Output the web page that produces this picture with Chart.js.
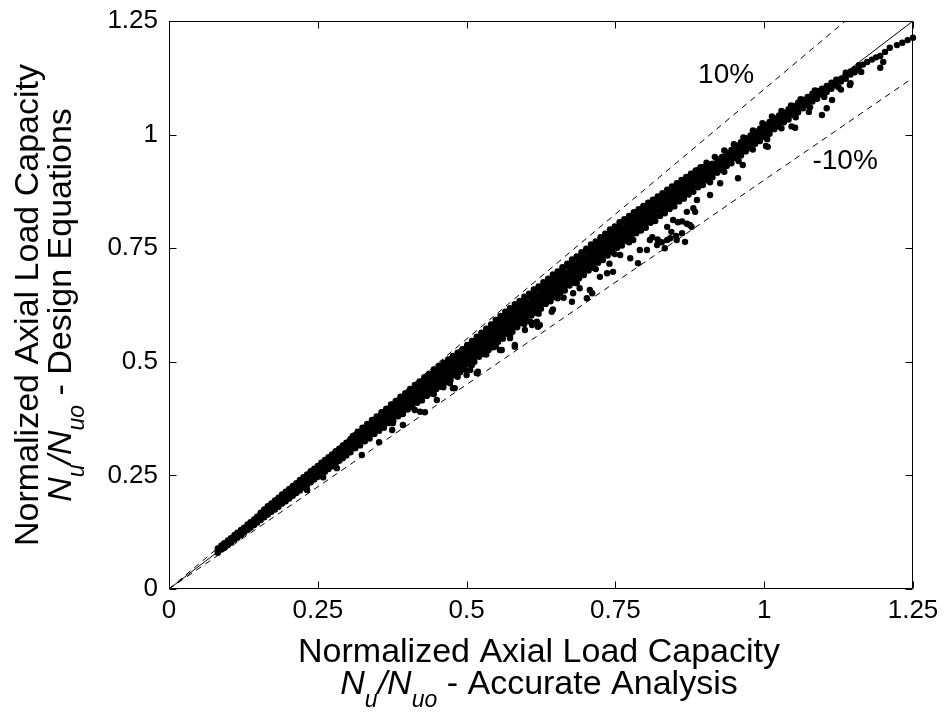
<!DOCTYPE html>
<html>
<head>
<meta charset="utf-8">
<script src="https://cdn.jsdelivr.net/npm/chart.js@4.4.1/dist/chart.umd.min.js"></script>
<style>
  html, body { margin: 0; padding: 0; background: #ffffff; }
  #wrap { width: 947px; height: 715px; position: relative; }
</style>
</head>
<body>
<div id="wrap"><canvas id="chart" width="947" height="715"></canvas></div>
<script>
// ---------------- DATA ----------------
// Axis ticks
const tickValues = [0, 0.25, 0.5, 0.75, 1, 1.25];
const tickLabels = ['0', '0.25', '0.5', '0.75', '1', '1.25'];

// Reference lines: exact (y = x), +10 % and -10 %
const lineX    = [0, 1.25];
const equalY   = [0, 1.25];
const plus10Y  = [0, 1.375];
const minus10Y = [0, 1.125];

// Scatter band, columns of [accurate analysis value, [design equation values]]
const bandLow = [
  [0.082,[0.080,0.085,0.089]],
  [0.088,[0.087,0.092,0.096]],
  [0.093,[0.091,0.097,0.101]],
  [0.099,[0.097,0.102,0.107]],
  [0.104,[0.102,0.108,0.112]],
  [0.110,[0.109,0.113,0.119]],
  [0.115,[0.113,0.119,0.124]],
  [0.121,[0.119,0.125,0.130]],
  [0.126,[0.124,0.131,0.135]],
  [0.132,[0.130,0.136,0.142]],
  [0.137,[0.135,0.142,0.147]],
  [0.143,[0.141,0.148,0.153]],
  [0.148,[0.146,0.153,0.159]],
  [0.154,[0.152,0.159,0.165,0.168]],
  [0.160,[0.158,0.165,0.171,0.175]],
  [0.166,[0.164,0.171,0.177,0.182]],
  [0.172,[0.170,0.177,0.184,0.188]],
  [0.178,[0.175,0.183,0.190,0.195]],
  [0.184,[0.181,0.189,0.196,0.201]],
  [0.190,[0.188,0.195,0.203,0.208]],
  [0.196,[0.193,0.201,0.209,0.214]],
  [0.202,[0.199,0.207,0.215,0.220]],
  [0.208,[0.205,0.214,0.221,0.227]],
  [0.214,[0.211,0.220,0.228,0.233]],
  [0.220,[0.217,0.226,0.234,0.240]],
  [0.226,[0.223,0.232,0.240,0.246]],
  [0.232,[0.229,0.238,0.247,0.252]],
  [0.238,[0.235,0.244,0.253,0.259]],
  [0.244,[0.241,0.250,0.259,0.265]],
  [0.250,[0.247,0.256,0.265,0.271]],
  [0.256,[0.252,0.262,0.271,0.278]],
  [0.262,[0.258,0.268,0.277,0.284]],
  [0.268,[0.264,0.274,0.284,0.290]],
  [0.274,[0.270,0.280,0.290,0.296]],
  [0.280,[0.276,0.287,0.296,0.303]],
  [0.286,[0.282,0.293,0.303,0.309]],
  [0.292,[0.288,0.299,0.309,0.316]],
  [0.298,[0.294,0.305,0.315,0.322]]
];

const bandMid = [
  [0.305,[0.301,0.309,0.316,0.324,0.330]],
  [0.313,[0.310,0.318,0.325,0.331,0.339]],
  [0.321,[0.316,0.324,0.331,0.338,0.345]],
  [0.329,[0.325,0.334,0.341,0.348,0.355]],
  [0.337,[0.331,0.340,0.348,0.355,0.362]],
  [0.345,[0.341,0.349,0.357,0.365,0.372]],
  [0.353,[0.348,0.357,0.364,0.372,0.379]],
  [0.361,[0.355,0.364,0.373,0.381,0.388]],
  [0.369,[0.365,0.374,0.382,0.390,0.397]],
  [0.377,[0.370,0.379,0.388,0.396,0.404]],
  [0.385,[0.380,0.389,0.398,0.406,0.413]],
  [0.393,[0.385,0.395,0.404,0.413,0.421]],
  [0.401,[0.395,0.405,0.414,0.422,0.430]],
  [0.409,[0.400,0.410,0.419,0.428,0.436,0.440]],
  [0.417,[0.410,0.420,0.429,0.438,0.446]],
  [0.425,[0.415,0.425,0.435,0.444,0.452,0.457]],
  [0.433,[0.425,0.435,0.445,0.454,0.462]],
  [0.441,[0.430,0.440,0.450,0.459,0.467,0.472]],
  [0.449,[0.440,0.450,0.460,0.469,0.477]],
  [0.457,[0.445,0.455,0.465,0.474,0.483,0.489]],
  [0.465,[0.455,0.465,0.475,0.484,0.493]],
  [0.473,[0.460,0.470,0.480,0.490,0.498,0.505]],
  [0.481,[0.470,0.480,0.490,0.499,0.508]],
  [0.489,[0.477,0.487,0.497,0.507,0.515,0.521]],
  [0.497,[0.483,0.494,0.504,0.513,0.522,0.528]],
  [0.505,[0.494,0.504,0.514,0.524,0.533]],
  [0.513,[0.500,0.511,0.521,0.530,0.539,0.545]],
  [0.521,[0.511,0.521,0.531,0.540,0.549]],
  [0.529,[0.517,0.527,0.537,0.547,0.556,0.562]],
  [0.537,[0.526,0.537,0.547,0.557,0.566]],
  [0.545,[0.532,0.543,0.554,0.563,0.572,0.578]],
  [0.553,[0.544,0.554,0.564,0.573,0.582]],
  [0.561,[0.551,0.561,0.571,0.580,0.589,0.595]],
  [0.569,[0.561,0.571,0.581,0.590,0.599]],
  [0.577,[0.566,0.577,0.587,0.597,0.606,0.612]],
  [0.585,[0.576,0.586,0.596,0.606,0.615]],
  [0.593,[0.585,0.595,0.605,0.615,0.624,0.628]],
  [0.601,[0.591,0.602,0.612,0.621,0.631]],
  [0.609,[0.602,0.612,0.622,0.631,0.640,0.645]],
  [0.617,[0.608,0.618,0.628,0.638,0.647]],
  [0.625,[0.617,0.627,0.637,0.647,0.656,0.661]],
  [0.633,[0.627,0.637,0.647,0.656,0.665]],
  [0.641,[0.633,0.643,0.653,0.663,0.672,0.678]],
  [0.649,[0.642,0.652,0.662,0.672,0.682]],
  [0.657,[0.651,0.661,0.671,0.681,0.690,0.695]],
  [0.665,[0.657,0.667,0.678,0.688,0.697]],
  [0.673,[0.668,0.678,0.688,0.698,0.707,0.712]],
  [0.681,[0.674,0.684,0.694,0.704,0.714]],
  [0.689,[0.684,0.694,0.704,0.714,0.724,0.729]],
  [0.697,[0.691,0.701,0.711,0.721,0.731]],
  [0.705,[0.701,0.711,0.721,0.731,0.741,0.746]],
  [0.713,[0.707,0.717,0.727,0.737,0.747]],
  [0.721,[0.718,0.728,0.738,0.748,0.757,0.763]],
  [0.729,[0.724,0.734,0.744,0.754,0.764]],
  [0.737,[0.734,0.744,0.754,0.764,0.774,0.779]],
  [0.745,[0.741,0.751,0.761,0.771,0.781]],
  [0.753,[0.751,0.761,0.771,0.781,0.791,0.796]],
  [0.761,[0.756,0.766,0.776,0.786,0.796]],
  [0.769,[0.766,0.776,0.786,0.796,0.806,0.812]],
  [0.777,[0.773,0.783,0.793,0.803,0.813]],
  [0.785,[0.783,0.793,0.803,0.813,0.823,0.828]],
  [0.793,[0.789,0.799,0.809,0.819,0.829]]
];

// Upper edge of the band in the middle range (points close to the +10 % line)
const bandMidUpper = [
  [0.309,[0.330,0.337]],[0.317,[0.340,0.346]],[0.325,[0.347,0.355]],[0.333,[0.357,0.363]],
  [0.341,[0.364,0.372]],[0.349,[0.374,0.380]],[0.357,[0.381,0.389]],[0.365,[0.391,0.397]],
  [0.373,[0.398,0.406]],[0.381,[0.408,0.414]],[0.389,[0.415,0.423]],[0.397,[0.425,0.431]],
  [0.405,[0.432,0.440]],[0.413,[0.442,0.449]],[0.421,[0.449,0.457]],[0.429,[0.459,0.466]],
  [0.437,[0.466,0.474]],[0.445,[0.476,0.483]],[0.453,[0.483,0.491]],[0.461,[0.493,0.498]],
  [0.469,[0.500,0.505]],[0.477,[0.507,0.513]],[0.485,[0.516,0.520]],[0.493,[0.522,0.528]],
  [0.501,[0.531,0.537]],[0.509,[0.540,0.546]],[0.517,[0.549,0.555]],[0.525,[0.558,0.564]],
  [0.533,[0.567,0.573]],[0.541,[0.576,0.582]],[0.549,[0.585,0.592]],[0.557,[0.594,0.601]],
  [0.565,[0.601,0.610]],[0.573,[0.611,0.618]],[0.581,[0.618,0.627]],[0.589,[0.628,0.634]],
  [0.597,[0.635,0.643]],[0.605,[0.645,0.650]],[0.613,[0.652,0.659]],[0.621,[0.661,0.666]],
  [0.629,[0.668,0.675]],[0.637,[0.678,0.683]],[0.645,[0.685,0.692]],[0.653,[0.694,0.699]],
  [0.661,[0.701,0.708]],[0.669,[0.711,0.716]],[0.677,[0.718,0.725]],[0.685,[0.727,0.732]],
  [0.693,[0.734,0.741]],[0.701,[0.744,0.749]],[0.709,[0.751,0.758]],[0.717,[0.760,0.765]],
  [0.725,[0.767,0.774]],[0.733,[0.777,0.782]],[0.741,[0.784,0.791]],[0.749,[0.793,0.798]],
  [0.757,[0.800,0.807]],[0.765,[0.809,0.814]],[0.773,[0.816,0.821]],[0.781,[0.825,0.829]],
  [0.789,[0.832,0.836]],[0.797,[0.839,0.843]],
  [0.805,[0.850]],[0.813,[0.857]],[0.821,[0.864]],[0.829,[0.871]],[0.837,[0.879]],
  [0.845,[0.886]],[0.853,[0.893]],[0.861,[0.900]],[0.869,[0.907]],[0.877,[0.914]],
  [0.885,[0.921]],[0.893,[0.928]]
];

const bandHigh = [
  [0.801,[0.795,0.805,0.816,0.827,0.837]],
  [0.809,[0.806,0.817,0.828,0.839,0.848]],
  [0.817,[0.810,0.821,0.832,0.843,0.852]],
  [0.825,[0.821,0.832,0.843,0.854,0.862]],
  [0.833,[0.827,0.838,0.849,0.860,0.869]],
  [0.841,[0.836,0.847,0.858,0.869,0.877]],
  [0.849,[0.842,0.853,0.864,0.875,0.884]],
  [0.857,[0.853,0.864,0.875,0.886,0.893]],
  [0.865,[0.859,0.870,0.881,0.892,0.900]],
  [0.873,[0.868,0.879,0.890,0.901,0.907]],
  [0.881,[0.874,0.885,0.896,0.907,0.914]],
  [0.889,[0.884,0.895,0.905,0.915,0.922]],
  [0.897,[0.889,0.900,0.911,0.921,0.928]],
  [0.905,[0.899,0.909,0.919,0.929,0.935]],
  [0.913,[0.906,0.916,0.926,0.936]],
  [0.921,[0.916,0.926,0.936,0.946]],
  [0.929,[0.922,0.931,0.941,0.951]],
  [0.937,[0.931,0.941,0.951,0.960]],
  [0.945,[0.937,0.947,0.957,0.966]],
  [0.953,[0.948,0.958,0.968,0.976]],
  [0.961,[0.954,0.964,0.974,0.983]],
  [0.969,[0.963,0.973,0.983,0.992]],
  [0.977,[0.970,0.980,0.989,0.998]],
  [0.985,[0.980,0.990,0.999,1.007]],
  [0.993,[0.986,0.995,1.004,1.013]],
  [1.001,[0.995,1.004,1.013,1.022]],
  [1.009,[1.002,1.011,1.020,1.028]],
  [1.017,[1.012,1.021,1.029,1.036]],
  [1.025,[1.018,1.027,1.035,1.042]],
  [1.033,[1.027,1.036,1.044,1.049]],
  [1.041,[1.033,1.042,1.050,1.056]],
  [1.049,[1.043,1.051,1.058,1.063]],
  [1.057,[1.049,1.057,1.065,1.070]],
  [1.065,[1.058,1.066,1.072,1.077]],
  [1.073,[1.064,1.071,1.078,1.083]],
  [1.081,[1.073,1.080,1.086,1.090]],
  [1.089,[1.079,1.086,1.092,1.096]],
  [1.097,[1.088,1.095,1.101]],
  [1.105,[1.094,1.101,1.107]]
];

// Ragged edges of the band in the upper range
const bandHighEdges = [
  [0.903,0.938],[0.917,0.951],[0.933,0.965],[0.949,0.979],[0.965,0.994],[0.981,1.009],
  [0.997,1.025],[1.013,1.040],[1.029,1.052],[1.045,1.064],[1.061,1.078],[1.085,1.097],
  [0.909,0.895],[0.933,0.918],[0.957,0.942],[0.981,0.967],[1.005,0.990],[1.029,1.014],
  [1.053,1.038],[1.077,1.060],[1.101,1.083],[1.125,1.104]
];

const bandTop = [
  [1.113,[1.101,1.108,1.114]],
  [1.121,[1.108,1.115,1.121]],
  [1.129,[1.117,1.123]],
  [1.137,[1.123,1.130,1.136]],
  [1.145,[1.132,1.139]],
  [1.152,[1.137,1.144]],
  [1.159,[1.145,1.153]],
  [1.166,[1.154]],
  [1.173,[1.160]],
  [1.181,[1.165]],
  [1.188,[1.170]],
  [1.195,[1.173]],
  [1.203,[1.182]],
  [1.211,[1.191]],
  [1.223,[1.197]],
  [1.232,[1.202]],
  [1.241,[1.208]],
  [1.250,[1.213]]
];

// Scattered points below the main band, [accurate, design]
const outliers = [
  [0.232,0.218],[0.259,0.246],[0.282,0.266],[0.324,0.295],[0.353,0.323],[0.375,0.350],
  [0.393,0.361],[0.422,0.390],[0.430,0.389],[0.477,0.442],[0.500,0.471],[0.517,0.475],
  [0.556,0.526],[0.581,0.533],[0.610,0.581],[0.612,0.585],[0.620,0.577],[0.623,0.581],
  [0.645,0.615],[0.663,0.641],[0.677,0.632],[0.690,0.662],[0.702,0.640],[0.707,0.658],
  [0.724,0.687],[0.740,0.716],[0.758,0.735],[0.780,0.768],[0.788,0.717],[0.803,0.746],
  [0.812,0.774],[0.821,0.769],[0.828,0.763],[0.837,0.768],[0.837,0.797],[0.844,0.786],
  [0.847,0.812],[0.852,0.777],[0.855,0.807],[0.862,0.783],[0.862,0.809],[0.870,0.830],
  [0.870,0.804],[0.878,0.797],[0.881,0.838],[0.887,0.856],[0.926,0.893],[0.956,0.904],
  [1.003,0.975],[1.046,1.018],[1.075,1.050],[1.097,1.043],[1.105,1.058],[1.129,1.099],
  [1.145,1.113],[1.163,1.138],[1.195,1.147],[1.200,1.160],
  [0.413,0.394],[0.472,0.453],[0.480,0.442],[0.506,0.482],[0.519,0.478],[0.573,0.552],
  [0.581,0.537],[0.598,0.570],[0.618,0.588],[0.643,0.610],[0.679,0.651],[0.711,0.651],
  [0.736,0.695],[0.746,0.698],[0.775,0.728],[0.791,0.746],[0.808,0.768],[0.820,0.757],
  [0.833,0.750],[0.842,0.772],[0.853,0.768],[0.867,0.764],[0.875,0.801],[0.884,0.830],
  [0.376,0.365],[0.450,0.416],[0.559,0.526],[0.607,0.588],[0.909,0.867],[0.964,0.933],
  [1.006,0.973],[1.052,1.015],[1.114,1.076],[1.144,1.109],
  [0.445,0.429],[0.461,0.444],[0.485,0.467],[0.509,0.493],[0.533,0.516],[0.549,0.534],
  [0.573,0.557],[0.597,0.583],[0.621,0.606],[0.653,0.640],[0.685,0.673],[0.717,0.704],
  [0.749,0.737],[0.773,0.763]
];

// ---------------- BUILD ----------------
const FONT = "'Liberation Sans', Arial, Helvetica, sans-serif";

const scatterPoints = [];
[bandLow, bandMid, bandMidUpper, bandHigh, bandTop].forEach(group => {
  group.forEach(([ax, ys]) => ys.forEach(dy => scatterPoints.push({ x: ax, y: dy })));
});
[bandHighEdges, outliers].forEach(group => {
  group.forEach(([ax, dy]) => scatterPoints.push({ x: ax, y: dy }));
});

const toLine = ys => lineX.map((v, i) => ({ x: v, y: ys[i] }));

// Closed MATLAB-style box with inward ticks on all four sides
const boxPlugin = {
  id: 'matlabBox',
  afterDraw(chart) {
    const { ctx, chartArea: a, scales: { x, y } } = chart;
    const L = Math.round(a.left) + 0.5, R = Math.round(a.right) - 0.5;
    const T = Math.round(a.top) + 0.5, B = Math.round(a.bottom) - 0.5;
    const tl = 7;
    ctx.save();
    ctx.strokeStyle = '#000';
    ctx.lineWidth = 1;
    ctx.beginPath();
    ctx.rect(L, T, R - L, B - T);
    tickValues.forEach(v => {
      const px = Math.round(x.getPixelForValue(v)) + 0.5;
      ctx.moveTo(px, B); ctx.lineTo(px, B - tl);
      ctx.moveTo(px, T); ctx.lineTo(px, T + tl);
      const py = Math.round(y.getPixelForValue(v)) + 0.5;
      ctx.moveTo(L, py); ctx.lineTo(L + tl, py);
      ctx.moveTo(R, py); ctx.lineTo(R - tl, py);
    });
    ctx.stroke();
    ctx.restore();
  }
};

// Rich text helper: italic N with subscripts
function drawRich(ctx, segs, cx, baseline, mainSize, subSize, subDrop) {
  let total = 0;
  segs.forEach(s => {
    ctx.font = (s.it ? 'italic ' : '') + (s.sub ? subSize : mainSize) + 'px ' + FONT;
    s.w = ctx.measureText(s.t).width;
    total += s.w;
  });
  let xx = cx - total / 2;
  ctx.textBaseline = 'alphabetic';
  ctx.textAlign = 'left';
  segs.forEach(s => {
    ctx.font = (s.it ? 'italic ' : '') + (s.sub ? subSize : mainSize) + 'px ' + FONT;
    ctx.fillText(s.t, xx, baseline + (s.sub ? subDrop : 0));
    xx += s.w;
  });
}

const titlePlugin = {
  id: 'titles',
  afterDraw(chart) {
    const { ctx, chartArea: a, scales: { x, y } } = chart;
    const cx = (a.left + a.right) / 2;
    const cy = 305;
    const main = 34, sub = 23, drop = 13;
    ctx.save();
    ctx.fillStyle = '#000';
    // x title
    ctx.font = main + 'px ' + FONT;
    ctx.textAlign = 'center';
    ctx.textBaseline = 'alphabetic';
    ctx.fillText('Normalized Axial Load Capacity', cx - 2, 662);
    drawRich(ctx, [
      { t: 'N', it: true }, { t: 'u', it: true, sub: true }, { t: '/N', it: true },
      { t: 'uo', it: true, sub: true }, { t: ' - Accurate Analysis' }
    ], cx - 2, 694, main, sub, drop);
    // y title (rotated)
    ctx.save();
    ctx.translate(38, cy);
    ctx.rotate(-Math.PI / 2);
    ctx.font = main + 'px ' + FONT;
    ctx.textAlign = 'center';
    ctx.fillText('Normalized Axial Load Capacity', 0, 0);
    ctx.restore();
    ctx.save();
    ctx.translate(71, cy);
    ctx.rotate(-Math.PI / 2);
    drawRich(ctx, [
      { t: 'N', it: true }, { t: 'u', it: true, sub: true }, { t: '/N', it: true },
      { t: 'uo', it: true, sub: true }, { t: ' - Design Equations' }
    ], 0, 0, main, sub, drop);
    ctx.restore();
    // line labels
    ctx.font = '28px ' + FONT;
    ctx.textAlign = 'center';
    ctx.textBaseline = 'middle';
    ctx.fillText('10%', x.getPixelForValue(0.936), y.getPixelForValue(1.131));
    ctx.fillText('-10%', x.getPixelForValue(1.136), y.getPixelForValue(0.942));
    ctx.restore();
  }
};

const tickFont = { family: FONT, size: 26 };

new Chart(document.getElementById('chart'), {
  type: 'scatter',
  data: {
    datasets: [
      {
        label: 'Comparison',
        data: scatterPoints,
        backgroundColor: '#000',
        borderColor: '#000',
        borderWidth: 0,
        pointRadius: 3.2,
        pointHoverRadius: 3.2,
        clip: false,
        order: 0
      },
      {
        label: 'Exact',
        data: toLine(equalY),
        showLine: true,
        borderColor: '#000',
        borderWidth: 1,
        pointRadius: 0,
        fill: false,
        order: 1
      },
      {
        label: '+10%',
        data: toLine(plus10Y),
        showLine: true,
        borderColor: '#000',
        borderWidth: 1,
        borderDash: [6, 5],
        pointRadius: 0,
        fill: false,
        order: 1
      },
      {
        label: '-10%',
        data: toLine(minus10Y),
        showLine: true,
        borderColor: '#000',
        borderWidth: 1,
        borderDash: [6, 5],
        pointRadius: 0,
        fill: false,
        order: 1
      }
    ]
  },
  options: {
    responsive: false,
    animation: false,
    devicePixelRatio: 1,
    layout: { padding: { left: 0, top: 21, right: 34, bottom: 0 } },
    plugins: { legend: { display: false }, tooltip: { enabled: false } },
    scales: {
      x: {
        type: 'linear', min: 0, max: 1.25,
        afterBuildTicks: s => { s.ticks = tickValues.map(v => ({ value: v })); },
        afterFit: s => { s.height = 126; s.paddingLeft = 0; s.paddingRight = 0; },
        ticks: {
          font: tickFont, color: '#000', padding: 6, maxRotation: 0, autoSkip: false,
          callback: v => tickLabels[tickValues.indexOf(v)]
        },
        grid: { display: false, drawTicks: false },
        border: { display: false }
      },
      y: {
        type: 'linear', min: 0, max: 1.25,
        afterBuildTicks: s => { s.ticks = tickValues.map(v => ({ value: v })); },
        afterFit: s => { s.width = 169; s.paddingTop = 0; s.paddingBottom = 0; },
        ticks: {
          font: tickFont, color: '#000', padding: 11, autoSkip: false,
          callback: v => tickLabels[tickValues.indexOf(v)]
        },
        grid: { display: false, drawTicks: false },
        border: { display: false }
      }
    }
  },
  plugins: [boxPlugin, titlePlugin]
});
</script>
</body>
</html>
